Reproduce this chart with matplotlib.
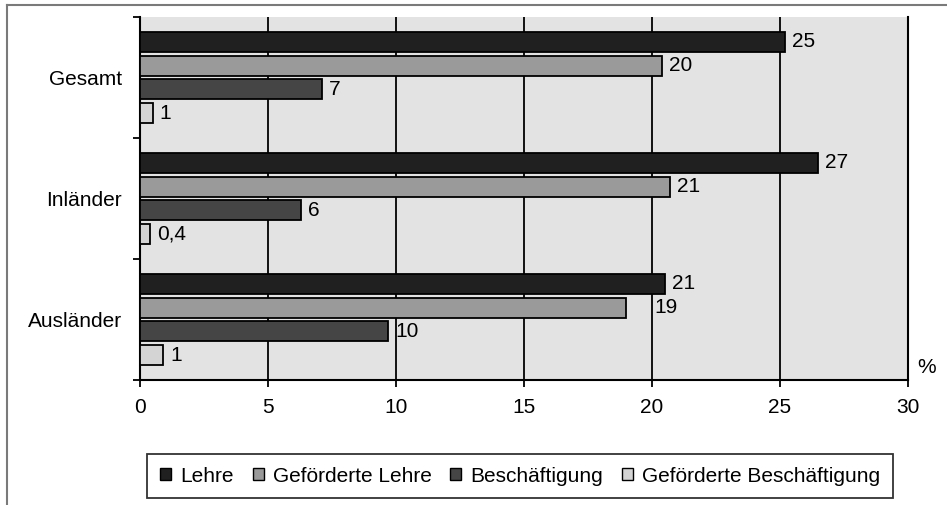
import math
import matplotlib
matplotlib.use("Agg")
import matplotlib.pyplot as plt
from matplotlib.lines import Line2D
from matplotlib.patches import Patch

plt.rcParams['font.family'] = ['Liberation Sans', 'DejaVu Sans']

categories = ["Gesamt", "Inländer", "Ausländer"]
series = ["Lehre", "Geförderte Lehre", "Beschäftigung", "Geförderte Beschäftigung"]
lehre = [25.2, 26.5, 20.5]
gef_lehre = [20.4, 20.7, 19.0]
beschaeftigung = [7.1, 6.3, 9.7]
gef_beschaeftigung = [0.5, 0.4, 0.9]
x_ticks = [0, 5, 10, 15, 20, 25, 30]

values = [lehre, gef_lehre, beschaeftigung, gef_beschaeftigung]
colors = ["#202020", "#9a9a9a", "#454545", "#d4d4d4"]

FS = 15


def fmt(v):
    r = int(math.floor(v + 0.5))
    if r == 0:
        return f"{v:.1f}".replace(".", ",")
    return f"{r:d}"


W, H = 947, 505
fig = plt.figure(figsize=(W / 100, H / 100), dpi=100)
fig.patch.set_facecolor("white")

left, right, top, bottom = 140, 908, 17, 380
ax = fig.add_axes([left / W, 1 - bottom / H, (right - left) / W, (bottom - top) / H])
ax.set_facecolor("#e3e3e3")

pitch = 0.198
height = 0.165
# extra horizontal shift (points) for crowded labels
label_nudge = {(2, 1): 15}

for s, (vals, col) in enumerate(zip(values, colors)):
    for c, v in enumerate(vals):
        y = c + (s - 1.5) * pitch
        ax.barh(y, v, height=height, color=col, edgecolor="black",
                linewidth=1.3, zorder=3)
        dx = 5 + label_nudge.get((c, s), 0)
        ax.annotate(fmt(v), xy=(v, y), xytext=(dx, 0), textcoords="offset points",
                    ha="left", va="center", fontsize=FS, color="black", zorder=4)

ax.set_xlim(0, 30)
ax.set_ylim(2.5, -0.5)
ax.set_xticks(x_ticks)
ax.set_xticklabels([str(t) for t in x_ticks], fontsize=FS)
ax.xaxis.grid(True, color="black", linewidth=1.3, zorder=1)
ax.set_axisbelow(True)
ax.tick_params(axis="x", direction="out", length=5, width=1.3, pad=8, colors="black")

ax.set_yticks([-0.5, 0.5, 1.5, 2.5])
ax.set_yticklabels([])
ax.set_yticks(range(len(categories)), minor=True)
ax.set_yticklabels(categories, minor=True, fontsize=FS)
ax.tick_params(axis="y", which="major", direction="out", length=5, width=1.3)
ax.tick_params(axis="y", which="minor", length=0, pad=13)

for side in ["left", "bottom", "right"]:
    ax.spines[side].set_color("black")
    ax.spines[side].set_linewidth(1.5)
ax.spines["top"].set_visible(False)

ax.annotate("%", xy=(1, 0), xycoords="axes fraction", xytext=(7, 2),
            textcoords="offset points", ha="left", va="bottom", fontsize=FS)

handles = [Patch(facecolor=c, edgecolor="black", linewidth=1.0) for c in colors]
leg = fig.legend(handles, series, loc="center", bbox_to_anchor=(520 / W, 1 - 476 / H),
                 ncol=4, fontsize=FS, frameon=True, fancybox=False, shadow=False,
                 handlelength=0.53, handleheight=0.53, handletextpad=0.43,
                 columnspacing=0.9, borderpad=0.62, borderaxespad=0)
leg.get_frame().set_edgecolor("black")
leg.get_frame().set_linewidth(1.3)

# outer chart frame (top and left edges)
fig.add_artist(Line2D([7 / W, 1], [1 - 5 / H, 1 - 5 / H], transform=fig.transFigure,
                      color="#7a7a7a", linewidth=1.5))
fig.add_artist(Line2D([7 / W, 7 / W], [1 - 5 / H, 0], transform=fig.transFigure,
                      color="#7a7a7a", linewidth=1.5))

fig.savefig("out.png", dpi=100, facecolor="white")
